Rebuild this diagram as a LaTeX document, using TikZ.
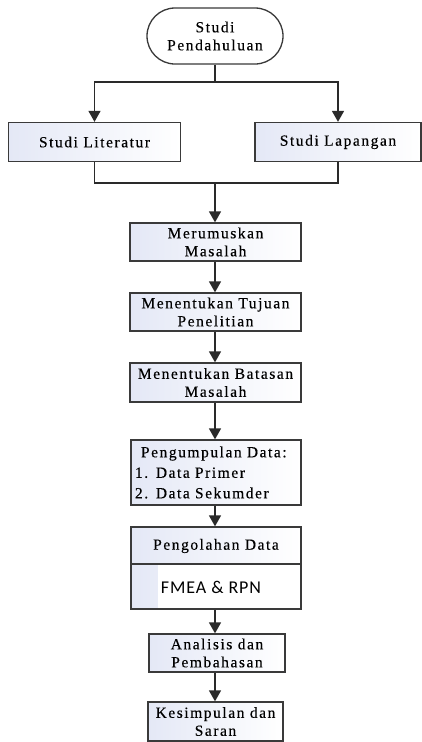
\documentclass[tikz,border=0pt]{standalone}
\usepackage{fontspec}
\setmainfont{Liberation Serif}[LetterSpace=10,FakeBold=0.3]
\newfontfamily\fmeafont{Carlito}[LetterSpace=5]
\usetikzlibrary{arrows.meta,shapes.misc}
\definecolor{linegray}{HTML}{2A2A2A}
\definecolor{boxedge}{HTML}{3A3A3A}
\definecolor{boxtint}{HTML}{E4E8F6}
\tikzset{
  box/.style={draw=boxedge, line width=1.3pt, left color=boxtint, right color=white,
    shading angle=90, inner sep=0pt, align=center,
    font=\fontsize{15.5}{18}\selectfont, text=black},
  conn/.style={draw=linegray, line width=1.4pt},
  arr/.style={conn, -{Triangle[width=12pt,length=11pt]}}
}
\begin{document}
\begin{tikzpicture}[x=1pt,y=-1pt]
\useasboundingbox (0,0) rectangle (422,742);
\fill[white] (0,0) rectangle (422,742);

\node[draw=boxedge, line width=1.3pt, fill=white, rounded rectangle, minimum width=136pt,
  minimum height=56pt, inner sep=0pt, align=center, font=\fontsize{15.5}{18}\selectfont]
  (term) at (215,36) {Studi\\Pendahuluan};

\node[box, minimum width=172pt, minimum height=39pt] (lit) at (94.5,142) {Studi Literatur};
\node[box, minimum width=166pt, minimum height=39pt] (lap) at (338,142) {Studi Lapangan};

\node[box, minimum width=171pt, minimum height=38pt] (mer) at (215.5,242) {Merumuskan\\Masalah};
\node[box, minimum width=171pt, minimum height=38pt] (tuj) at (215.5,312) {Menentukan Tujuan\\Penelitian};
\node[box, minimum width=171pt, minimum height=39pt] (bat) at (215.5,382.5) {Menentukan Batasan\\Masalah};
\node[box, minimum width=170pt, minimum height=65pt, align=left, text width=162pt,
  font=\fontsize{15.5}{20.5}\selectfont] (kum) at (216,472.5)
  {\hspace*{6pt}Pengumpulan Data:\\1. Data Primer\\2. Data Sekumder};

\node[box, minimum width=170pt, minimum height=82pt] (olah) at (216,568) {};
\fill[white] (158,565) rectangle (300,608);
\draw[boxedge, line width=1.3pt] (olah.north west) rectangle (olah.south east);
\draw[boxedge, line width=1.3pt] (olah.west |- 0,564) -- (olah.east |- 0,564);
\node[font=\fontsize{15.5}{18}\selectfont, inner sep=0pt] (olaht) at (216,546) {Pengolahan Data};
\node[font=\fmeafont\fontsize{18}{20}\selectfont, inner sep=0pt] (fmea) at (211,587) {FMEA \& RPN};

\node[box, minimum width=136pt, minimum height=38pt] (ana) at (217,653) {Analisis dan\\Pembahasan};
\node[box, minimum width=135pt, minimum height=39pt] (kes) at (215.5,721.5) {Kesimpulan dan\\Saran};

\coordinate (split) at (215,82);
\coordinate (join) at (215,183);

\draw[conn] (term.south) -- (split);
\draw[arr] (split) -| (lit.north);
\draw[arr] (split) -| (lap.north);
\draw[conn] (lit.south) |- (join);
\draw[conn] (lap.south) |- (join);
\draw[arr] (join) -- (join |- mer.north);
\draw[arr] (mer.south -| join) -- (join |- tuj.north);
\draw[arr] (tuj.south -| join) -- (join |- bat.north);
\draw[arr] (bat.south -| join) -- (join |- kum.north);
\draw[arr] (kum.south -| join) -- (join |- olah.north);
\draw[arr] (olah.south -| join) -- (join |- ana.north);
\draw[arr] (ana.south -| join) -- (join |- kes.north);
\end{tikzpicture}
\end{document}
